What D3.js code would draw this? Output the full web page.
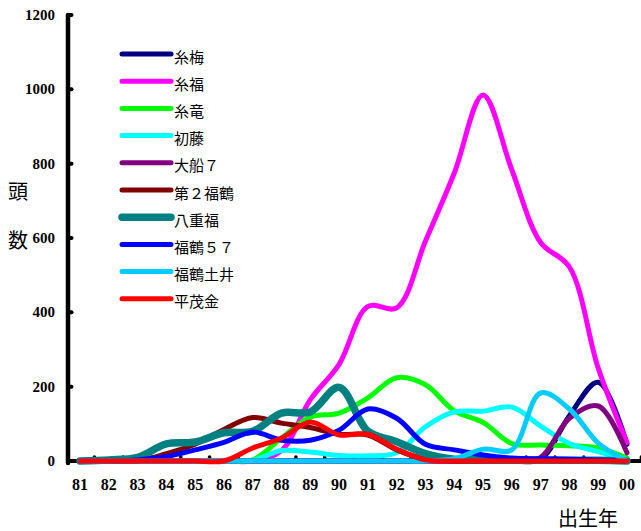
<!DOCTYPE html>
<html>
<head>
<meta charset="utf-8">
<script src="https://cdn.jsdelivr.net/npm/d3@7/dist/d3.min.js"></script>
<style>
  body { margin: 0; background: #fff; }
  svg { display: block; }
</style>
</head>
<body>
<svg id="chart" width="641" height="531"></svg>
<script>
// Birth year (x categories)
const years = ["81","82","83","84","85","86","87","88","89","90",
               "91","92","93","94","95","96","97","98","99","00"];

// Head counts per sire, one value per birth year
const itoume     = [0,0,0,0,0,0,0,0,0,0,0,0,0,0,0,0,5,122,212,45];
const itofuku    = [0,0,0,0,0,0,0,28,165,260,416,412,592,775,985,783,588,522,250,50];
const itoryu     = [0,0,0,0,0,0,3,62,118,129,170,224,205,135,104,47,43,41,35,8];
const hatsufuji  = [0,0,0,0,0,0,2,28,24,15,14,22,92,132,134,145,94,47,25,3];
const ofune7     = [0,0,0,0,0,0,0,0,0,0,0,0,0,0,0,0,10,115,148,22];
const dai2fukutsuru = [0,0,0,20,45,85,117,102,90,72,70,30,5,0,0,0,0,0,0,0];
const yaefuku    = [0,3,10,46,51,76,80,129,132,198,80,52,20,5,3,2,2,2,2,0];
const fukutsuru57 = [0,0,3,12,30,50,78,56,56,83,140,115,45,30,16,8,6,5,3,0];
const fukutsuruDoi = [0,0,0,0,0,0,0,0,0,0,0,0,0,6,32,30,183,140,48,0];
const hiraShigekane = [0,0,0,0,0,0,35,62,105,70,72,32,3,0,0,0,0,0,0,0];

const yTicks = [0,200,400,600,800,1000,1200];

const series = [
  { name: "糸梅",     values: itoume,        color: "#000080", width: 5 },
  { name: "糸福",     values: itofuku,       color: "#FF00FF", width: 5 },
  { name: "糸竜",     values: itoryu,        color: "#00FF00", width: 5 },
  { name: "初藤",     values: hatsufuji,     color: "#00FFFF", width: 5 },
  { name: "大船７",   values: ofune7,        color: "#800080", width: 5 },
  { name: "第２福鶴", values: dai2fukutsuru, color: "#800000", width: 5 },
  { name: "八重福",   values: yaefuku,       color: "#008080", width: 7.5 },
  { name: "福鶴５７", values: fukutsuru57,   color: "#0000FF", width: 5 },
  { name: "福鶴土井", values: fukutsuruDoi,  color: "#00CCFF", width: 5 },
  { name: "平茂金",   values: hiraShigekane, color: "#FF0000", width: 5 }
];

const svg = d3.select("#chart");

const x = d3.scalePoint().domain(years).range([80, 627]);
const step = x.step();
const y = d3.scaleLinear().domain([0, 1200]).range([461, 15]);

const serif = "'Liberation Serif', 'DejaVu Serif', serif";
const jp = "'Noto Sans CJK JP', 'Noto Sans', sans-serif";

// Horizontal axis line with small ticks between categories
svg.append("line")
  .attr("x1", 66).attr("x2", 645)
  .attr("y1", y(0)).attr("y2", y(0))
  .attr("stroke", "#000").attr("stroke-width", 4);

const midTicks = years.map((d) => x(d) + step / 2);
svg.append("g").selectAll("line").data(midTicks).join("line")
  .attr("x1", d => d).attr("x2", d => d)
  .attr("y1", y(0) - 1).attr("y2", y(0) - 4)
  .attr("stroke", "#000").attr("stroke-width", 3.5)
  .attr("stroke-linecap", "round");

// Vertical axis
svg.append("line")
  .attr("x1", 68).attr("x2", 68)
  .attr("y1", y(1200)).attr("y2", y(0) + 2)
  .attr("stroke", "#000").attr("stroke-width", 4.5)
  .attr("stroke-linecap", "round");

svg.append("g").selectAll("line").data(yTicks).join("line")
  .attr("x1", 69).attr("x2", 71.5)
  .attr("y1", d => y(d)).attr("y2", d => y(d))
  .attr("stroke", "#000").attr("stroke-width", 4)
  .attr("stroke-linecap", "round");

svg.append("g").selectAll("text").data(yTicks).join("text")
  .attr("x", 55).attr("y", d => y(d))
  .attr("text-anchor", "end").attr("dominant-baseline", "central")
  .attr("font-family", serif).attr("font-weight", "bold").attr("font-size", 15)
  .text(d => d);

svg.append("g").selectAll("text").data(years).join("text")
  .attr("x", d => x(d)).attr("y", 490)
  .attr("text-anchor", "middle")
  .attr("font-family", serif).attr("font-weight", "bold").attr("font-size", 16)
  .text(d => d);

// Axis titles
svg.append("text").attr("x", 18).attr("y", 190)
  .attr("text-anchor", "middle").attr("dominant-baseline", "central")
  .attr("font-family", jp).attr("font-size", 20).text("頭");
svg.append("text").attr("x", 18).attr("y", 239)
  .attr("text-anchor", "middle").attr("dominant-baseline", "central")
  .attr("font-family", jp).attr("font-size", 20).text("数");
svg.append("text").attr("x", 588).attr("y", 517)
  .attr("text-anchor", "middle").attr("dominant-baseline", "central")
  .attr("font-family", jp).attr("font-size", 20).text("出生年");

// Smoothed series lines
const line = d3.line()
  .x((d, i) => x(years[i]))
  .y(d => y(d))
  .curve(d3.curveCatmullRom.alpha(0.5));

svg.append("g").selectAll("path").data(series).join("path")
  .attr("d", d => line(d.values))
  .attr("fill", "none")
  .attr("stroke", d => d.color)
  .attr("stroke-width", d => d.width)
  .attr("stroke-linecap", "round")
  .attr("stroke-linejoin", "round");

// Legend
const legend = svg.append("g").selectAll("g").data(series).join("g")
  .attr("transform", (d, i) => `translate(0, ${54 + i * 27.2})`);
legend.append("line")
  .attr("x1", 122).attr("x2", 171).attr("y1", 0).attr("y2", 0)
  .attr("stroke", d => d.color)
  .attr("stroke-width", d => d.width)
  .attr("stroke-linecap", "round");
legend.append("text")
  .attr("x", 174).attr("y", 2)
  .attr("dominant-baseline", "central")
  .attr("font-family", jp).attr("font-size", 15)
  .text(d => d.name);
</script>
</body>
</html>
